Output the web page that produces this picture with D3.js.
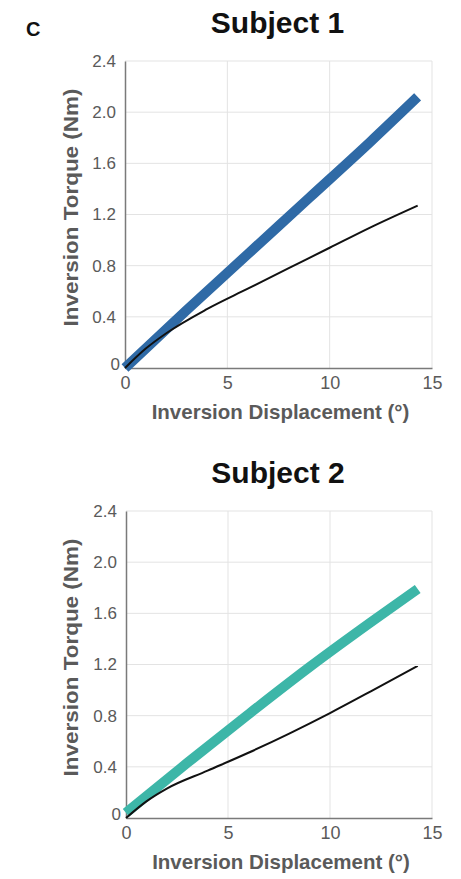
<!DOCTYPE html>
<html>
<head>
<meta charset="utf-8">
<script src="https://cdn.jsdelivr.net/npm/d3@7"></script>
<style>
  html, body { margin: 0; padding: 0; background: #fff; }
  svg { display: block; font-family: "Liberation Sans", Arial, Helvetica, sans-serif; }
</style>
</head>
<body>
<svg id="chart" width="461" height="879"></svg>
<script>
// ---- data ----
const panelLetter = "C";
const titles = ["Subject 1", "Subject 2"];
const xTicks = [0, 5, 10, 15];
const yTicks = [0, 0.4, 0.8, 1.2, 1.6, 2.0, 2.4];
const yTickLabels = ["0", "0.4", "0.8", "1.2", "1.6", "2.0", "2.4"];
const xLabel = "Inversion Displacement (°)";
const yLabel = "Inversion Torque (Nm)";

// Subject 1
const s1X      = [0, 3, 6, 9, 12, 14.3];
const s1Thick  = [0, 0.45, 0.89, 1.33, 1.77, 2.12];
const s1BlackX = [0, 1, 2, 4, 6, 8, 10, 12, 14.3];
const s1Black  = [0, 0.15, 0.27, 0.46, 0.62, 0.78, 0.94, 1.10, 1.27];

// Subject 2
const s2X      = [0, 3, 6, 9, 12, 14.3];
const s2Thick  = [0.04, 0.43, 0.81, 1.18, 1.53, 1.79];
const s2BlackX = [0, 1, 2, 4, 6, 8, 10, 12, 14.3];
const s2Black  = [0, 0.13, 0.23, 0.37, 0.51, 0.66, 0.82, 0.99, 1.19];

const thickColors = ["#2f6aa6", "#3db6a8"];

// ---- layout ----
const svg = d3.select("#chart");
const panels = [
  {title: titles[0], left: 125, right: 432, top: 61, bottom: 368, titleY: 33,
   thickX: s1X, thick: s1Thick, blackX: s1BlackX, black: s1Black, color: thickColors[0]},
  {title: titles[1], left: 126, right: 432, top: 511, bottom: 818, titleY: 483,
   thickX: s2X, thick: s2Thick, blackX: s2BlackX, black: s2Black, color: thickColors[1]}
];

svg.append("text").attr("x", 26).attr("y", 36)
  .attr("font-size", 20).attr("font-weight", "bold").attr("fill", "#111")
  .text(panelLetter);

panels.forEach(p => {
  const x = d3.scaleLinear().domain([0, 15]).range([p.left, p.right]);
  const y = d3.scaleLinear().domain([0, 2.4]).range([p.bottom, p.top]);
  const g = svg.append("g");

  // title
  g.append("text").attr("x", (p.left + p.right) / 2 - 1).attr("y", p.titleY)
    .attr("text-anchor", "middle").attr("font-size", 30).attr("font-weight", "bold")
    .attr("fill", "#111").text(p.title);

  // gridlines
  g.append("g").selectAll("line").data(yTicks.filter(d => d > 0)).join("line")
    .attr("x1", p.left).attr("x2", p.right)
    .attr("y1", d => y(d)).attr("y2", d => y(d))
    .attr("stroke", "#e3e3e3").attr("stroke-width", 1);
  g.append("g").selectAll("line").data(xTicks.filter(d => d > 0)).join("line")
    .attr("y1", p.top).attr("y2", p.bottom)
    .attr("x1", d => x(d)).attr("x2", d => x(d))
    .attr("stroke", "#e3e3e3").attr("stroke-width", 1);

  // axes
  const xAxis = d3.axisBottom(x).tickValues(xTicks).tickSize(0).tickPadding(8)
    .tickFormat(d3.format("d"));
  const gx = g.append("g").attr("transform", `translate(0,${p.bottom})`).call(xAxis);
  gx.select(".domain").attr("stroke", "#7a7a7a").attr("stroke-width", 1.5);
  gx.selectAll("text").attr("font-size", 18).attr("fill", "#5a5a5a")
    .attr("font-family", "Liberation Sans, Arial, sans-serif");

  const yAxis = d3.axisLeft(y).tickValues(yTicks).tickSize(0).tickPadding(9)
    .tickFormat((d, i) => yTickLabels[i]);
  const gy = g.append("g").attr("transform", `translate(${p.left},0)`).call(yAxis);
  gy.select(".domain").attr("stroke", "#7a7a7a").attr("stroke-width", 1.5);
  gy.selectAll("text").attr("font-size", 17).attr("fill", "#5a5a5a")
    .attr("font-family", "Liberation Sans, Arial, sans-serif");
  gy.selectAll(".tick").filter(d => d === 0).select("text")
    .attr("x", -5).attr("dy", "0.1em");

  // axis titles
  g.append("text").attr("x", (p.left + p.right) / 2 + 2).attr("y", p.bottom + 51)
    .attr("text-anchor", "middle").attr("font-size", 20.5).attr("font-weight", "bold")
    .attr("fill", "#5a5a5a").text(xLabel);
  g.append("text")
    .attr("transform", `translate(78,${(p.top + p.bottom) / 2 - 7}) rotate(-90)`)
    .attr("text-anchor", "middle").attr("font-size", 21).attr("font-weight", "bold")
    .attr("textLength", 238).attr("lengthAdjust", "spacingAndGlyphs")
    .attr("fill", "#5a5a5a").text(yLabel);

  // lines
  const line = d3.line().x(d => x(d[0])).y(d => y(d[1])).curve(d3.curveMonotoneX);
  g.append("path").datum(p.thickX.map((v, i) => [v, p.thick[i]]))
    .attr("d", line).attr("fill", "none").attr("stroke", p.color)
    .attr("stroke-width", 10).attr("stroke-linecap", "butt").attr("stroke-linejoin", "round");
  g.append("path").datum(p.blackX.map((v, i) => [v, p.black[i]]))
    .attr("d", line).attr("fill", "none").attr("stroke", "#111")
    .attr("stroke-width", 2);
});
</script>
</body>
</html>
